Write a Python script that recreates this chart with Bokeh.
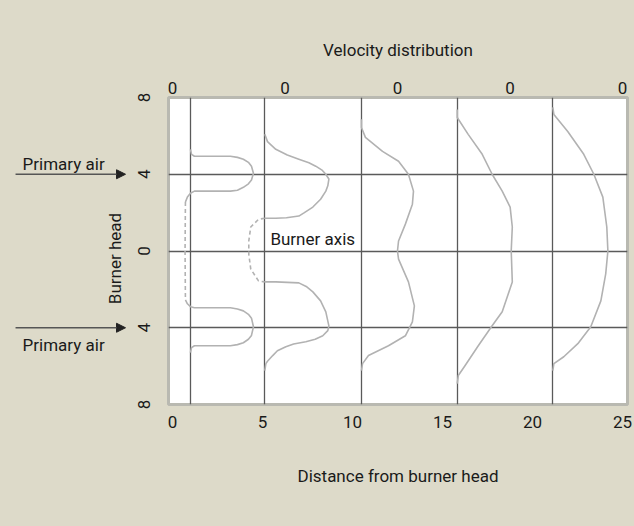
import math
from bokeh.plotting import figure
from bokeh.layouts import row
from bokeh.models import FixedTicker, LinearAxis, Range1d, Label, Arrow, NormalHead
from bokeh.core.properties import value
from bokeh.embed import file_html
from bokeh.resources import INLINE

# ---- data ----
station_x = [1.0, 5.13, 10.5, 15.82, 21.13]          # profile baselines (distance)
dist_ticks = [0, 5, 10, 15, 20, 25]
vel_ticks = [0, 6.25, 12.5, 18.75, 25]
head_ticks = [-8, -4, 0, 4, 8]
head_labels = ["8", "4", "0", "4", "8"]
axis_lines_y = [-4, 0, 4]
primary_air_y = [4, -4]
primary_air_label_y = [4.56, -4.92]

# profile 1 (near burner head): two narrow jets, weak reverse flow on the axis
p1_upper_u = [0, 0.06, 0.22, 1.11, 2.22, 2.61, 2.94, 3.22, 3.39, 3.5, 3.39, 3.22, 2.94, 2.61, 2.22, 1.11, 0.22, 0, -0.17, -0.28]
p1_upper_y = [5.30, 5.04, 4.94, 4.94, 4.94, 4.88, 4.78, 4.62, 4.42, 4.05, 3.70, 3.50, 3.32, 3.17, 3.12, 3.12, 3.12, 3.01, 2.81, 2.55]
p1_mid_u = [-0.28, -0.30, -0.28]
p1_mid_y = [2.55, 0.0, -2.55]
p1_lower_u = [-0.28, -0.17, 0, 0.22, 1.11, 2.22, 2.61, 2.94, 3.22, 3.39, 3.5, 3.39, 3.22, 2.94, 2.61, 2.22, 1.11, 0.22, 0.06, 0]
p1_lower_y = [-2.55, -2.75, -2.90, -2.96, -2.96, -2.96, -3.02, -3.12, -3.30, -3.50, -3.95, -4.40, -4.60, -4.78, -4.88, -4.94, -4.94, -4.94, -5.04, -5.30]

# profile 2
p2_upper_u = [0, 0.15, 0.61, 1.25, 1.89, 2.45, 2.83, 3.2, 3.39, 3.56, 3.5, 3.39, 3.1, 2.67, 2.2, 1.89, 1.2, 0.61, 0]
p2_upper_y = [6.08, 5.7, 5.30, 5.0, 4.78, 4.6, 4.42, 4.2, 4.0, 3.75, 3.4, 3.12, 2.7, 2.29, 2.0, 1.82, 1.73, 1.71, 1.71]
p2_mid_u = [0, -0.35, -0.78, -0.89, -0.89, -0.78, -0.35, 0]
p2_mid_y = [1.71, 1.65, 1.25, 0.52, -0.16, -0.94, -1.56, -1.61]
p2_lower_u = [0, 0.61, 1.89, 2.3, 2.67, 3.1, 3.39, 3.56, 3.5, 3.22, 2.8, 2.28, 1.6, 1.17, 0.7, 0.44, 0.15, 0.06, 0]
p2_lower_y = [-1.61, -1.61, -1.66, -1.85, -2.13, -2.6, -3.17, -3.9, -4.15, -4.42, -4.6, -4.73, -4.85, -4.99, -5.2, -5.45, -5.75, -5.87, -6.23]

# profile 3
p3_u = [0, 0, 0.22, 1.17, 2.06, 2.61, 2.89, 2.83, 2.44, 2.06, 2.0, 2.06, 2.61, 2.94, 2.83, 2.44, 1.5, 0.39, 0.06, 0]
p3_y = [6.86, 6.44, 5.92, 5.19, 4.68, 4.0, 3.12, 2.44, 1.40, 0.52, 0, -0.42, -1.61, -2.86, -3.69, -4.42, -4.94, -5.45, -5.87, -6.23]

# profile 4
p4_u = [0, 0, 0.61, 1.39, 1.94, 2.5, 2.94, 3.06, 3.0, 3.06, 2.5, 1.94, 1.17, 0.44, 0.06, 0]
p4_y = [7.38, 6.96, 6.08, 5.04, 4.0, 3.12, 2.29, 1.25, 0, -1.61, -3.17, -3.90, -4.94, -5.97, -6.49, -6.91]

# profile 5
p5_u = [0, 0.06, 0.83, 1.72, 2.28, 2.78, 3.0, 3.06, 2.94, 2.67, 2.11, 1.39, 0.61, 0.06, 0]
p5_y = [7.48, 7.12, 6.23, 5.04, 4.0, 2.81, 1.25, 0, -1.19, -2.60, -3.95, -4.83, -5.51, -5.87, -6.23]

# ---- styling ----
BG = "#dddac9"
TXT = "#1a1a1a"
GRID = "#5a5a5a"
CURVE = "#b2b2b2"
FONT = "Roboto"
FS = "17px"

LEFT_W = 130
TOTAL_W = 634
H = 526
TOP, BOTTOM = 97, 122
PX_PER_UNIT = 18.0
X0_PAGE = 172.0

# ---- left panel: primary-air arrows and "Burner head" title ----
lp = figure(width=LEFT_W, height=H, output_backend="svg", toolbar_location=None,
            x_range=Range1d((0 - X0_PAGE) / PX_PER_UNIT, (LEFT_W - X0_PAGE) / PX_PER_UNIT),
            y_range=Range1d(-8, 8), x_axis_location=None, y_axis_location=None,
            min_border_left=0, min_border_right=0, min_border_top=TOP, min_border_bottom=BOTTOM)
lp.background_fill_color = None
lp.border_fill_color = BG
lp.outline_line_color = None
lp.xgrid.visible = False
lp.ygrid.visible = False

for yy in primary_air_y:
    lp.add_layout(Arrow(end=NormalHead(size=9, fill_color="#222222", line_color="#222222"),
                        x_start=-8.72, y_start=yy, x_end=-2.61, y_end=yy,
                        line_color="#555555", line_width=1.5))
lp.text(x=[-8.33, -8.33], y=primary_air_label_y, text=["Primary air", "Primary air"],
        text_font=value(FONT), text_font_size=value(FS), text_color=TXT,
        text_baseline="middle", text_align="left")
lp.text(x=[-3.17], y=[-0.39], text=["Burner head"], angle=math.pi / 2,
        text_font=value(FONT), text_font_size=value(FS), text_color=TXT,
        text_baseline="middle", text_align="center")

# ---- main chart ----
p = figure(width=TOTAL_W - LEFT_W, height=H, output_backend="svg", toolbar_location=None,
           x_range=Range1d(-0.22, 25.28), y_range=Range1d(-8, 8),
           min_border_left=168 - LEFT_W, min_border_right=7, min_border_top=TOP, min_border_bottom=BOTTOM)
p.background_fill_color = "white"
p.border_fill_color = BG
p.outline_line_color = "#b9b9b1"
p.outline_line_width = 3

def style_axis(ax):
    ax.axis_line_color = None
    ax.major_tick_line_color = None
    ax.minor_tick_line_color = None
    ax.major_tick_out = 0
    ax.major_tick_in = 0
    ax.minor_tick_out = 0
    ax.minor_tick_in = 0
    ax.major_label_text_font = FONT
    ax.major_label_text_font_size = FS
    ax.major_label_text_color = TXT
    ax.axis_label_text_font = FONT
    ax.axis_label_text_font_size = FS
    ax.axis_label_text_font_style = "normal"
    ax.axis_label_text_color = TXT

# bottom axis
xa = p.xaxis[0]
xa.ticker = FixedTicker(ticks=dist_ticks)
style_axis(xa)
xa.major_label_standoff = 11
xa.axis_label = "Distance from burner head"
xa.axis_label_standoff = 35

# top axis
ta = LinearAxis(ticker=FixedTicker(ticks=vel_ticks),
                major_label_overrides={t: "0" for t in vel_ticks})
style_axis(ta)
ta.major_label_standoff = 4
ta.axis_label = "Velocity distribution"
ta.axis_label_standoff = 19
p.add_layout(ta, "above")

# left axis
ya = p.yaxis[0]
ya.ticker = FixedTicker(ticks=head_ticks)
ya.major_label_overrides = {t: s for t, s in zip(head_ticks, head_labels)}
style_axis(ya)
ya.major_label_orientation = "parallel"
ya.major_label_standoff = 19

# grid: profile baselines and head lines
p.xgrid.ticker = FixedTicker(ticks=station_x)
p.ygrid.ticker = FixedTicker(ticks=axis_lines_y)
for g in (p.xgrid[0], p.ygrid[0]):
    g.grid_line_color = GRID
    g.grid_line_width = 1.3
    g.grid_line_alpha = 1.0

def draw(station, u, y, dash="solid"):
    xs = [station + v for v in u]
    p.line(xs, y, line_color=CURVE, line_width=1.6, line_join="round", line_dash=dash)

draw(station_x[0], p1_upper_u, p1_upper_y)
draw(station_x[0], p1_mid_u, p1_mid_y, "4 3")
draw(station_x[0], p1_lower_u, p1_lower_y)
draw(station_x[1], p2_upper_u, p2_upper_y)
draw(station_x[1], p2_mid_u, p2_mid_y, "4 3")
draw(station_x[1], p2_lower_u, p2_lower_y)
draw(station_x[2], p3_u, p3_y)
draw(station_x[3], p4_u, p4_y)
draw(station_x[4], p5_u, p5_y)

p.add_layout(Label(x=5.44, y=0.6, text="Burner axis", text_font=FONT, text_font_size=FS,
                   text_color=TXT, text_baseline="middle", text_align="left"))

layout = row(lp, p, spacing=0, styles={"background-color": BG})
open("out.html", "w").write(file_html(layout, INLINE))
